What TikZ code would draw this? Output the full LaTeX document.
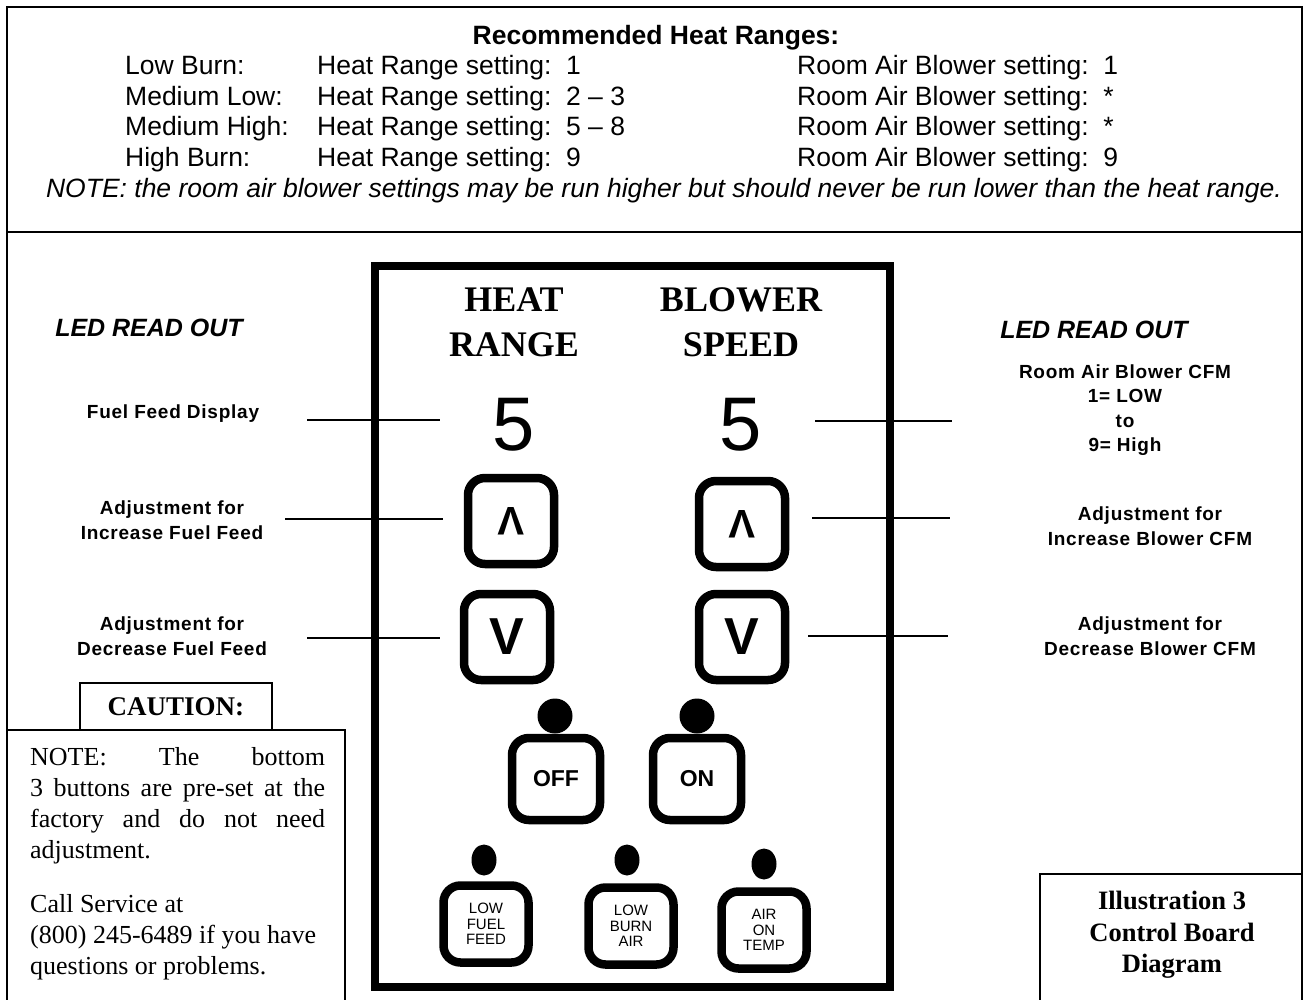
\documentclass[tikz,border=0pt]{standalone}
\usepackage{fontspec}
\setmainfont{Liberation Serif}
\setsansfont{Liberation Sans}
\newfontfamily\etiqfont[LetterSpace=4]{Liberation Sans}
\usetikzlibrary{shapes.geometric}

\begin{document}
\begin{tikzpicture}[
    x=1pt, y=-1pt,
    linha/.style={line width=1.5pt},
    cabecalho/.style={
        font=\sffamily\fontsize{26.5}{30}\selectfont,
        anchor=base west,
        inner sep=0pt
    },
    painel/.style={
        draw,
        line width=8pt,
        minimum width=515pt,
        minimum height=721pt,
        inner sep=0pt
    },
    titulo/.style={
        font=\bfseries\fontsize{36}{45}\selectfont,
        align=center,
        inner sep=0pt
    },
    visor/.style={
        font=\sffamily\fontsize{76}{76}\selectfont,
        inner sep=0pt
    },
    botao/.style={
        draw,
        line width=8.5pt,
        rounded corners=17pt,
        minimum width=86pt,
        minimum height=86pt,
        inner sep=0pt,
        align=center,
        font=\sffamily\bfseries
    },
    led/.style={
        ellipse,
        fill,
        inner sep=0pt,
        minimum width=35pt,
        minimum height=35pt
    },
    ledpeq/.style={
        ellipse,
        fill,
        inner sep=0pt,
        minimum width=25pt,
        minimum height=31pt
    },
    etiqueta/.style={
        font=\etiqfont\bfseries\fontsize{19}{24.5}\selectfont,
        align=center,
        inner sep=0pt
    },
    leitura/.style={
        font=\sffamily\bfseries\itshape\fontsize{25}{25}\selectfont,
        inner sep=0pt
    },
    fio/.style={line width=2.5pt},
    aviso/.style={
        font=\fontsize{26}{31}\selectfont,
        align=justify,
        inner sep=0pt
    }
]

\useasboundingbox (0,0) rectangle (1304,1000);

% ---------------- Moldura ----------------

\draw[linha] (7,1000) -- (7,7) -- (1302,7) -- (1302,1000);
\draw[linha] (7,232) -- (1302,232);

% ---------------- Faixas de calor ----------------

\node[
    font=\sffamily\bfseries\fontsize{26.5}{30}\selectfont,
    anchor=base,
    inner sep=0pt
] (faixas) at (656,44.5)
{Recommended Heat Ranges:};

\node[cabecalho] (nivel1) at (125,74.5) {Low Burn:};
\node[cabecalho] (nivel2) at (125,105.5) {Medium Low:};
\node[cabecalho] (nivel3) at (125,135.5) {Medium High:};
\node[cabecalho] (nivel4) at (125,166.5) {High Burn:};

\node[cabecalho] (calor1) at (317,74.5) {Heat Range setting:\ \ 1};
\node[cabecalho] (calor2) at (317,105.5) {Heat Range setting:\ \ 2 – 3};
\node[cabecalho] (calor3) at (317,135.5) {Heat Range setting:\ \ 5 – 8};
\node[cabecalho] (calor4) at (317,166.5) {Heat Range setting:\ \ 9};

\node[cabecalho] (sopro1) at (797,74.5) {Room Air Blower setting:\ \ 1};
\node[cabecalho] (sopro2) at (797,105.5) {Room Air Blower setting:\ \ *};
\node[cabecalho] (sopro3) at (797,135.5) {Room Air Blower setting:\ \ *};
\node[cabecalho] (sopro4) at (797,166.5) {Room Air Blower setting:\ \ 9};

\node[
    cabecalho,
    font=\sffamily\itshape\fontsize{26.5}{30}\selectfont,
    anchor=base
] (nota) at (664,197.5)
{NOTE: the room air blower settings may be run higher but should never be run lower than the heat range.};

% ---------------- Painel ----------------

\node[
    painel,
    anchor=north west
] (quadro) at (371,262)
{};

\node[titulo] (tcalor) at (514,322) {HEAT\\RANGE};
\node[titulo] (tsopro) at (741,322) {BLOWER\\SPEED};

\node[visor] (vcalor) at (514,425) {5};
\node[visor] (vsopro) at (741,425) {5};

\node[botao, font=\sffamily\bfseries\fontsize{40}{40}\selectfont] (sobecalor) at (511,521) {\rotatebox{180}{V}};
\node[botao, font=\sffamily\bfseries\fontsize{40}{40}\selectfont] (sobesopro) at (742,524) {\rotatebox{180}{V}};
\node[botao, font=\sffamily\bfseries\fontsize{52}{52}\selectfont] (descecalor) at (507,637) {V};
\node[botao, font=\sffamily\bfseries\fontsize{52}{52}\selectfont] (descesopro) at (742,637) {V};

\node[led] (ledoff) at (555,716) {};
\node[led] (ledon) at (697,716) {};
\node[botao, minimum width=88pt, minimum height=82pt, font=\sffamily\bfseries\fontsize{23}{23}\selectfont] (desliga) at (556,779) {OFF};
\node[botao, minimum width=88pt, minimum height=82pt, font=\sffamily\bfseries\fontsize{23}{23}\selectfont] (liga) at (697,779) {ON};

\node[ledpeq] (ledcomb) at (484,860) {};
\node[ledpeq] (ledqueima) at (627,860) {};
\node[ledpeq] (ledtemp) at (764,864) {};
\node[botao, minimum width=85pt, minimum height=77pt, font=\sffamily\fontsize{15}{15.5}\selectfont] (combustivel) at (486,924) {LOW\\FUEL\\FEED};
\node[botao, minimum width=85pt, minimum height=77pt, font=\sffamily\fontsize{15}{15.5}\selectfont] (queima) at (631,926) {LOW\\BURN\\AIR};
\node[botao, minimum width=85pt, minimum height=77pt, font=\sffamily\fontsize{15}{15.5}\selectfont] (temp) at (764,930) {AIR\\ON\\TEMP};

% ---------------- Lado esquerdo ----------------

\node[leitura] (leiturae) at (149,328) {LED READ OUT};
\node[etiqueta] (exibe) at (173,414) {Fuel Feed Display};
\node[etiqueta] (aumentae) at (172,520) {Adjustment for\\Increase Fuel Feed};
\node[etiqueta] (diminuie) at (172,636) {Adjustment for\\Decrease Fuel Feed};

\coordinate (fe1) at (307,420);
\coordinate (fe2) at (285,519);
\coordinate (fe3) at (307,638);
\draw[fio] (fe1) -- (440,420);
\draw[fio] (fe2) -- (443,519);
\draw[fio] (fe3) -- (440,638);

% ---------------- Lado direito ----------------

\node[leitura] (leiturad) at (1094,330) {LED READ OUT};
\node[etiqueta] (vazao) at (1125,410) {Room Air Blower CFM\\1= LOW\\to\\9= High};
\node[etiqueta] (aumentad) at (1150,526) {Adjustment for\\Increase Blower CFM};
\node[etiqueta] (diminuid) at (1150,636) {Adjustment for\\Decrease Blower CFM};

\coordinate (fd1) at (952,421);
\coordinate (fd2) at (950,518);
\coordinate (fd3) at (948,636);
\draw[fio] (815,421) -- (fd1);
\draw[fio] (812,518) -- (fd2);
\draw[fio] (808,636) -- (fd3);

% ---------------- Cuidado ----------------

\node[
    draw,
    line width=1.2pt,
    minimum width=192pt,
    minimum height=47pt,
    font=\bfseries\fontsize{27}{27}\selectfont
] (cuidado) at (176,706.5)
{CAUTION:};

\draw[line width=1.2pt] (7,730) -- (345,730) -- (345,1000);

\node[
    aviso,
    text width=295pt,
    anchor=north west
] (texto) at (30,747.5)
{NOTE: The bottom\linebreak
    3 buttons are pre-set at the\linebreak
    factory and do not need\linebreak
    adjustment.\par\vspace{23pt}
    Call Service at\\
    (800) 245-6489 if you have\\
    questions or problems.};

% ---------------- Ilustracao ----------------

\draw[line width=1.2pt] (1040,1000) -- (1040,874) -- (1302,874);

\node[
    font=\bfseries\fontsize{26.5}{31.5}\selectfont,
    align=center,
    inner sep=0pt,
    anchor=north
] (legenda) at (1172,891)
{Illustration 3\\Control Board\\Diagram};

\end{tikzpicture}
\end{document}
